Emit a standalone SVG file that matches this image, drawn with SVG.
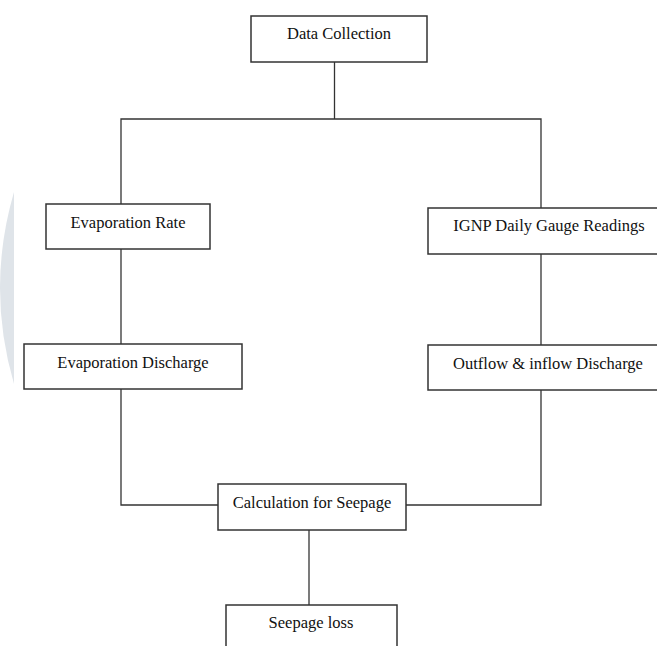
<svg xmlns="http://www.w3.org/2000/svg" width="657" height="646" viewBox="0 0 657 646">
<style>
.box{fill:#fff;stroke:#333;stroke-width:1.5}
.lbl{font-family:"Liberation Serif","Times New Roman",serif;font-size:16.5px;fill:#111;text-anchor:middle}
.con{fill:none;stroke:#333;stroke-width:1.3}
</style>
<rect width="657" height="646" fill="#fff"/>
<path d="M14,192 Q-14,288 14,384 Z" fill="#dfe4e9"/>
<g id="connectors">
<line class="con" x1="334.5" y1="62" x2="334.5" y2="119"/>
<polyline class="con" points="121,204 121,119 541,119 541,208"/>
<line class="con" x1="121" y1="249" x2="121" y2="344"/>
<line class="con" x1="541" y1="254" x2="541" y2="345"/>
<polyline class="con" points="121,389 121,505 218,505"/>
<polyline class="con" points="541,390 541,505 406,505"/>
<line class="con" x1="309" y1="530" x2="309" y2="605"/>
</g>
<g id="data-collection">
<rect class="box" x="251" y="16" width="176" height="46"/>
<text class="lbl" x="339" y="39">Data Collection</text>
</g>
<g id="evaporation-rate">
<rect class="box" x="46" y="204" width="164" height="45"/>
<text class="lbl" x="128" y="228">Evaporation Rate</text>
</g>
<g id="ignp-readings">
<rect class="box" x="428" y="208" width="240" height="46"/>
<text class="lbl" x="549" y="231">IGNP Daily Gauge Readings</text>
</g>
<g id="evaporation-discharge">
<rect class="box" x="24" y="344" width="218" height="45"/>
<text class="lbl" x="133" y="368">Evaporation Discharge</text>
</g>
<g id="outflow-inflow">
<rect class="box" x="428" y="345" width="240" height="45"/>
<text class="lbl" x="548" y="369">Outflow &amp; inflow Discharge</text>
</g>
<g id="calculation">
<rect class="box" x="218" y="484" width="188" height="46"/>
<text class="lbl" x="312" y="508">Calculation for Seepage</text>
</g>
<g id="seepage-loss">
<rect class="box" x="226" y="605" width="171" height="50"/>
<text class="lbl" x="311" y="628">Seepage loss</text>
</g>
</svg>
